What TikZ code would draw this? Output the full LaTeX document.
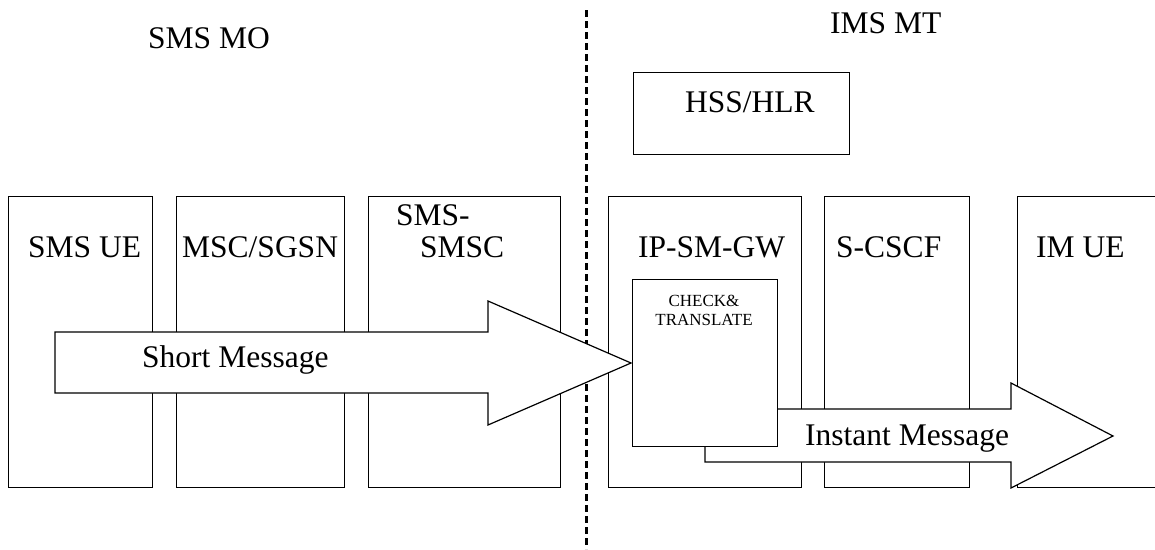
\documentclass[tikz,border=0pt]{standalone}
\usepackage{fontspec}
\setmainfont{Liberation Serif}
\begin{document}
\begin{tikzpicture}[x=1pt,y=-1pt,
  unit/.style={draw, line width=1pt, fill=white, inner sep=0pt, anchor=north west},
  lbl/.style={font=\fontsize{31.5}{36}\selectfont, inner sep=0pt, anchor=base west},
  smalllbl/.style={font=\fontsize{17}{19}\selectfont, align=center, inner sep=0pt, anchor=north},
  blockarrow/.style={draw, line width=1.2pt, fill=white, line join=miter},
  divider/.style={line width=3pt, dash pattern=on 7pt off 4pt}]
\useasboundingbox (0,0) rectangle (1155,549);

% domain divider
\coordinate (dtop) at (586,10);
\coordinate (dbot) at (586,549);
\draw[divider] (dtop) -- (dbot);

% domain titles
\node[lbl] (mo) at (148,48) {SMS MO};
\node[lbl] (mt) at (830,33) {IMS MT};

% HSS/HLR
\node[unit, minimum width=216pt, minimum height=82pt] (hss) at (633,72) {};
\node[lbl] at (685,112) {HSS/HLR};

% network entities
\node[unit, minimum width=144pt, minimum height=291pt] (smsue) at (8,196) {};
\node[unit, minimum width=168pt, minimum height=291pt] (msc) at (176,196) {};
\node[unit, minimum width=192pt, minimum height=291pt] (smsc) at (368,196) {};
\node[unit, minimum width=193pt, minimum height=291pt] (ipsm) at (608,196) {};
\node[unit, minimum width=145pt, minimum height=291pt] (scscf) at (824,196) {};
\node[unit, minimum width=200pt, minimum height=291pt] (imue) at (1017,196) {};

\node[lbl] at (28,257) {SMS UE};
\node[lbl] at (182,257) {MSC/SGSN};
\node[lbl] at (396,225) {SMS-};
\node[lbl] at (420,257) {SMSC};
\node[lbl] at (638,257) {IP-SM-GW};
\node[lbl] at (836,257) {S-CSCF};
\node[lbl] at (1036,257) {IM UE};

% short message flow
\draw[blockarrow] (55,332) -- (488,332) -- (488,301) -- (631,363)
  -- (488,425) -- (488,393) -- (55,393) -- cycle;
\node[lbl] at (142,367) {Short Message};

% instant message flow
\draw[blockarrow] (705,409) -- (1011,409) -- (1011,383) -- (1113,436)
  -- (1011,488) -- (1011,462) -- (705,462) -- cycle;
\node[lbl] at (805,445) {Instant Message};

% conversion function inside the gateway
\node[unit, minimum width=145pt, minimum height=167pt] (chk) at (632,279) {};
\node[smalllbl] at (704,294.5) {CHECK\&\\TRANSLATE};
\end{tikzpicture}
\end{document}
